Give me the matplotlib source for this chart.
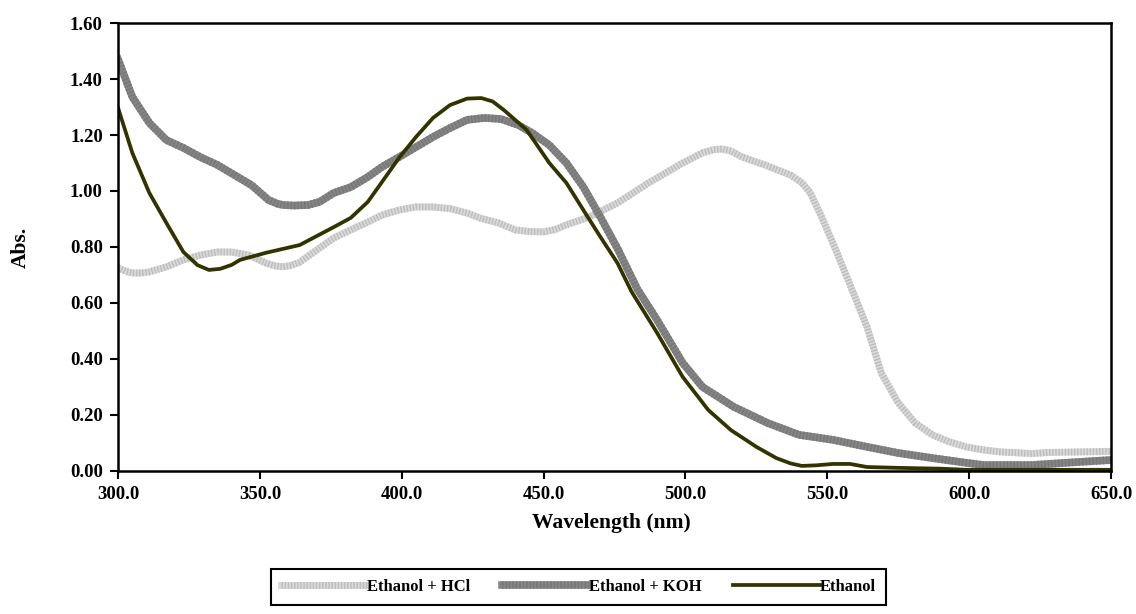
import matplotlib
matplotlib.use("Agg")
import matplotlib.pyplot as plt
from matplotlib.legend_handler import HandlerTuple
from matplotlib.ticker import FormatStrFormatter, MultipleLocator

plt.rcParams["font.family"] = ["Liberation Serif", "DejaVu Serif"]
plt.rcParams["font.weight"] = "bold"

## Traced spectra (wavelength in nm, absorbance)
hcl_wl = [300, 303, 305, 308, 311, 317, 323, 329, 335, 340, 346, 352, 355, 358,
          361, 364, 370, 376, 382, 388, 393, 399, 405, 411, 417, 423, 428, 434,
          440, 445, 450, 454, 458, 466, 476, 487, 499, 506, 510, 513, 516, 520,
          528, 537, 541, 544, 548, 553, 558, 564, 569, 575, 581, 587, 593, 599,
          605, 611, 622, 628, 640, 650]
hcl_abs = [0.725, 0.712, 0.707, 0.707, 0.711, 0.729, 0.754, 0.771, 0.782, 0.782,
           0.771, 0.743, 0.733, 0.729, 0.734, 0.746, 0.789, 0.832, 0.861, 0.889,
           0.914, 0.932, 0.943, 0.943, 0.937, 0.921, 0.902, 0.886, 0.861, 0.855,
           0.854, 0.862, 0.879, 0.907, 0.957, 1.029, 1.100, 1.136, 1.148, 1.150,
           1.143, 1.121, 1.093, 1.057, 1.030, 0.993, 0.907, 0.789, 0.665, 0.514,
           0.350, 0.243, 0.171, 0.129, 0.104, 0.086, 0.075, 0.068, 0.062, 0.066,
           0.068, 0.070]

koh_wl = [300, 301, 305, 311, 317, 323, 329, 335, 341, 347, 353, 356, 358, 362,
          367, 371, 376, 382, 388, 393, 399, 405, 411, 417, 423, 429, 435, 441,
          446, 452, 458, 464, 470, 476, 483, 490, 499, 506, 517, 529, 540, 552,
          564, 575, 587, 599, 605, 622, 634, 650]
koh_abs = [1.470, 1.443, 1.336, 1.243, 1.182, 1.154, 1.121, 1.093, 1.057, 1.021,
           0.968, 0.955, 0.950, 0.948, 0.950, 0.961, 0.993, 1.014, 1.050, 1.086,
           1.121, 1.157, 1.193, 1.225, 1.254, 1.261, 1.257, 1.236, 1.207, 1.164,
           1.100, 1.014, 0.907, 0.795, 0.650, 0.539, 0.386, 0.300, 0.229, 0.171,
           0.129, 0.111, 0.086, 0.064, 0.046, 0.029, 0.021, 0.021, 0.029, 0.039]

eth_wl = [300, 305, 311, 317, 323, 328, 332, 336, 340, 343, 352, 364, 376, 382,
          388, 393, 399, 405, 411, 417, 423, 428, 432, 436, 444, 452, 458, 464,
          470, 476, 481, 490, 499, 508, 516, 525, 532, 537, 541, 546, 552, 558,
          564, 575, 590, 599, 650]
eth_abs = [1.296, 1.136, 0.993, 0.886, 0.782, 0.735, 0.718, 0.722, 0.736, 0.754,
           0.779, 0.807, 0.871, 0.904, 0.961, 1.032, 1.118, 1.193, 1.261, 1.307,
           1.330, 1.332, 1.320, 1.289, 1.218, 1.100, 1.029, 0.932, 0.836, 0.743,
           0.640, 0.493, 0.336, 0.218, 0.146, 0.086, 0.046, 0.027, 0.018, 0.020,
           0.025, 0.025, 0.014, 0.011, 0.008, 0.004, 0.004]

fig = plt.figure(figsize=(11.36, 6.14), dpi=100)
ax = fig.add_axes([0.104, 0.233, 0.874, 0.7295])

# striped look of the old spreadsheet lines: a base line plus a fine dash overlay
h1 = ax.plot(hcl_wl, hcl_abs, color="#dadada", lw=5, solid_joinstyle="round")[0]
h1s = ax.plot(hcl_wl, hcl_abs, color="#bdbdbd", lw=5, dashes=(0.2, 0.25))[0]
h2 = ax.plot(koh_wl, koh_abs, color="#858585", lw=5.5, solid_joinstyle="round")[0]
h2s = ax.plot(koh_wl, koh_abs, color="#787878", lw=5.5, dashes=(0.2, 0.25))[0]
h3 = ax.plot(eth_wl, eth_abs, color="#333300", lw=2.7, solid_joinstyle="round")[0]

ax.set_xlim(300, 650)
ax.set_ylim(0, 1.6)
ax.xaxis.set_major_locator(MultipleLocator(50))
ax.yaxis.set_major_locator(MultipleLocator(0.2))
ax.xaxis.set_major_formatter(FormatStrFormatter("%.1f"))
ax.yaxis.set_major_formatter(FormatStrFormatter("%.2f"))
ax.tick_params(direction="out", length=6, width=1.5, labelsize=13.5, pad=5)
for s in ax.spines.values():
  s.set_linewidth(1.8)

ax.set_xlabel("Wavelength (nm)", fontsize=15.5, fontweight="bold")
ax.set_ylabel("Abs.", fontsize=15.5, fontweight="bold")
ax.xaxis.set_label_coords(0.497, -0.093)
ax.yaxis.set_label_coords(-0.088, 0.5)

leg = fig.legend([(h1, h1s), (h2, h2s), h3],
                 ["Ethanol + HCl", "Ethanol + KOH", "Ethanol"],
                 handler_map={tuple: HandlerTuple(ndivide=1, pad=0)},
                 loc="center", bbox_to_anchor=(0.509, 0.044), ncol=3,
                 fancybox=False, edgecolor="black", framealpha=1,
                 prop={"size": 12, "weight": "bold"},
                 handlelength=5.2, handletextpad=0.0, columnspacing=1.9,
                 borderpad=0.6)
leg.get_frame().set_linewidth(1.5)

fig.savefig("out.png", dpi=100)
